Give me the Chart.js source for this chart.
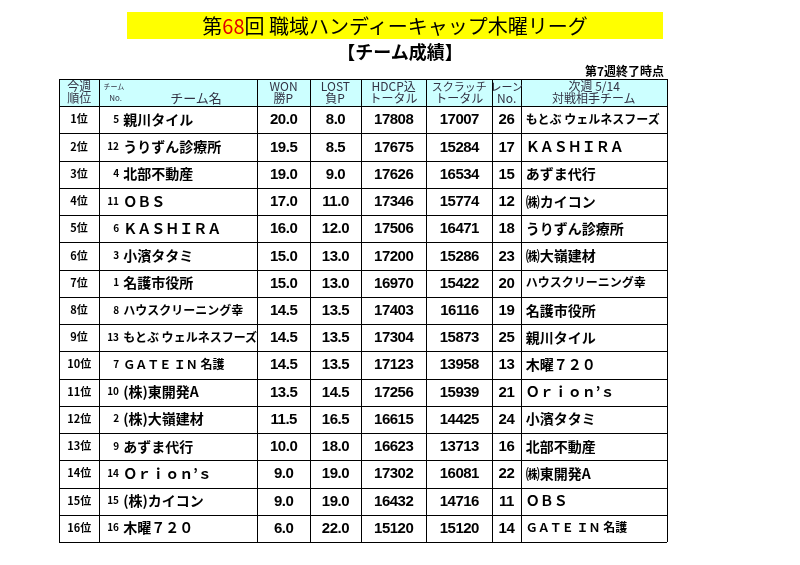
<!DOCTYPE html>
<html><head><meta charset="utf-8">
<script src="https://cdn.jsdelivr.net/npm/chart.js@4"></script>
<style>
body{margin:0;background:#fff;font-family:"Noto Sans CJK JP",sans-serif;}
#wrap{position:relative;width:800px;height:565px;overflow:hidden;}
canvas{position:absolute;left:0;top:0;}
.t{position:absolute;white-space:nowrap;line-height:1;}
#title{position:absolute;left:127px;top:12px;width:536px;height:27px;background:#ffff00;text-align:center;font-size:20px;line-height:27px;color:#000;}
#sub{position:absolute;left:0;width:800px;top:38px;text-align:center;font-size:18px;font-weight:bold;}
#week{position:absolute;right:136px;top:62px;font-size:12px;font-weight:bold;}
</style></head><body>
<div id="wrap">
<canvas id="c" width="800" height="565"></canvas>
<div id="title">第<span style="color:#e00000">68</span>回 職域ハンディーキャップ木曜リーグ</div>
<div id="sub">【チーム成績】</div>
<div id="week">第7週終了時点</div>
</div>
<script>
const columnBounds=[51,92,252,305,357,423,490,519,667];
const headers=[["今週","順位"],["",""],["WON","勝P"],["LOST","負P"],["HDCP込","トータル"],["スクラッチ","トータル"],["レーン","No."],["次週 5/14","対戦相手チーム"]];
const ranks=["1位","2位","3位","4位","5位","6位","7位","8位","9位","10位","11位","12位","13位","14位","15位","16位"];
const teamNos=[5,12,4,11,6,3,1,8,13,7,10,2,9,14,15,16];
const teamNames=["親川タイル","うりずん診療所","北部不動産","ＯＢＳ","ＫＡＳＨＩＲＡ","小濱タタミ","名護市役所","ハウスクリーニング幸","もとぶ ウェルネスフーズ","ＧＡＴＥ ＩＮ 名護","(株)東開発A","(株)大嶺建材","あずま代行","Ｏｒｉｏｎ’ｓ","(株)カイコン","木曜７２０"];
const wonP=[20.0,19.5,19.0,17.0,16.0,15.0,15.0,14.5,14.5,14.5,13.5,11.5,10.0,9.0,9.0,6.0];
const lostP=[8.0,8.5,9.0,11.0,12.0,13.0,13.0,13.5,13.5,13.5,14.5,16.5,18.0,19.0,19.0,22.0];
const hdcpTotal=[17808,17675,17626,17346,17506,17200,16970,17403,17304,17123,17256,16615,16623,17302,16432,15120];
const scratchTotal=[17007,15284,16534,15774,16471,15286,15422,16116,15873,13958,15939,14425,13713,16081,14716,15120];
const laneNo=[26,17,15,12,18,23,20,19,25,13,21,24,16,22,11,14];
const opponents=["もとぶ ウェルネスフーズ","ＫＡＳＨＩＲＡ","あずま代行","㈱カイコン","うりずん診療所","㈱大嶺建材","ハウスクリーニング幸","名護市役所","親川タイル","木曜７２０","Ｏｒｉｏｎ’ｓ","小濱タタミ","北部不動産","㈱東開発A","ＯＢＳ","ＧＡＴＥ ＩＮ 名護"];

const wrap=document.getElementById('wrap');
function put(txt,x,y,css,align){
  const d=document.createElement('div');d.className='t';d.textContent=txt;
  d.style.cssText+=css;wrap.appendChild(d);
  const w=d.offsetWidth,h=d.offsetHeight;
  let l=align==='left'?x:align==='right'?x-w:x-w/2;
  d.style.left=l+'px';d.style.top=(y-h/2-1)+'px';
}
let done=false;
const cellPlugin={id:'cells',
 beforeDatasetsDraw(ch){
  const {ctx,scales:{x,y}}=ch;
  ctx.save();ctx.fillStyle='#ccffff';
  const x0=x.getPixelForValue(columnBounds[0]),x1=x.getPixelForValue(columnBounds[8]);
  const y0=y.getPixelForValue(0),y1=y.getPixelForValue(1),yb=y.getPixelForValue(17);
  ctx.fillRect(x0,y0,x1-x0,y1-y0);
  ctx.strokeStyle='#000';ctx.lineWidth=1;
  ctx.beginPath();
  for(let r=0;r<=17;r++){const yy=Math.round(y.getPixelForValue(r))+0.5;ctx.moveTo(x0,yy);ctx.lineTo(x1,yy);}
  columnBounds.forEach(v=>{const xx=Math.round(x.getPixelForValue(v))+0.5;ctx.moveTo(xx,y0);ctx.lineTo(xx,yb);});
  ctx.stroke();
  ctx.restore();
 },
 afterRender(ch){
  if(done)return;done=true;
  const {x,y}=ch.scales;
  const cx=i=>x.getPixelForValue((columnBounds[i]+columnBounds[i+1])/2);
  const hy=r=>y.getPixelForValue(r);
  const hc='font-size:12px;color:#334;';
  headers.forEach((h,i)=>{ if(i===1)return;
    const css=(i===5||i===6)?'font-size:11px;color:#334;':hc;
    put(h[0],cx(i),hy(0.3),css,'c');put(h[1],cx(i),hy(0.72),hc,'c');});
  put('チーム',x.getPixelForValue(96),hy(0.3),'font-size:7px;color:#334;','left');
  put('No.',x.getPixelForValue(102),hy(0.75),'font-size:8px;color:#334;','left');
  put('チーム名',x.getPixelForValue(190),hy(0.72),'font-size:13px;color:#334;','c');
  const num='font-family:"Liberation Sans",Arial,sans-serif;font-weight:bold;font-size:15px;letter-spacing:-0.5px;';
  for(let r=0;r<ranks.length;r++){
    const yy=hy(r+1.5);
    put(ranks[r],cx(0),yy,'font-size:11px;font-weight:bold;','c');
    put(String(teamNos[r]),x.getPixelForValue(112),yy,'font-size:10px;font-weight:bold;','right');
    const nm=teamNames[r];
    put(nm,x.getPixelForValue(116),yy,'font-size:'+(nm.length>9?'12':'14')+'px;font-weight:bold;','left');
    put(wonP[r].toFixed(1),cx(2),yy,num,'c');
    put(lostP[r].toFixed(1),cx(3),yy,num,'c');
    put(String(hdcpTotal[r]),cx(4),yy,num,'c');
    put(String(scratchTotal[r]),cx(5),yy,num,'c');
    put(String(laneNo[r]),cx(6),yy,num,'c');
    const op=opponents[r];
    put(op,x.getPixelForValue(524),yy,'font-size:'+(op.length>9?'12':'14')+'px;font-weight:bold;','left');
  }
 }};
new Chart(document.getElementById('c'),{
 type:'scatter',
 data:{datasets:[{data:[]}]},
 options:{responsive:false,animation:false,events:[],
  layout:{padding:{left:51,right:133,top:79,bottom:15}},
  plugins:{legend:{display:false},tooltip:{enabled:false}},
  scales:{
   x:{type:'linear',min:columnBounds[0],max:columnBounds[8],
      afterBuildTicks:s=>{s.ticks=columnBounds.map(v=>({value:v}));},
      ticks:{display:false,padding:0},grid:{display:false},border:{display:false}},
   y:{type:'linear',min:0,max:17,reverse:true,ticks:{display:false,stepSize:1,padding:0},
      grid:{display:false},border:{display:false}}
  }},
 plugins:[cellPlugin]});
</script>
</body></html>
